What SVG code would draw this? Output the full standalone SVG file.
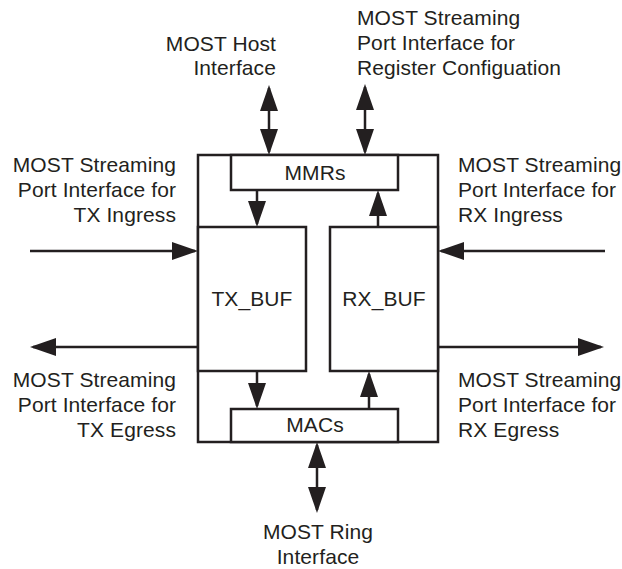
<svg xmlns="http://www.w3.org/2000/svg" width="622" height="569" viewBox="0 0 622 569">
  <style>
    .box { fill: #ffffff; stroke: #231f20; stroke-width: 2.5; }
    .frame { fill: none; stroke: #231f20; stroke-width: 2.5; }
    .wire { fill: none; stroke: #231f20; stroke-width: 2.5; }
    .lbl { font-family: "Liberation Sans", Arial, Helvetica, sans-serif; font-size: 21px; fill: #231f20; letter-spacing: 0.1px; }
    .mid { text-anchor: middle; }
    .end { text-anchor: end; }
  </style>
  <defs>
    <marker id="head" markerUnits="userSpaceOnUse" markerWidth="26" markerHeight="18" refX="23" refY="9" orient="auto-start-reverse" viewBox="0 0 26 18">
      <path d="M0,0 L26,9 L0,18 Z" fill="#231f20"/>
    </marker>
  </defs>

  <rect width="622" height="569" fill="#ffffff"/>

  <!-- outer block frame -->
  <g id="frame">
    <rect class="frame" x="198" y="155" width="240" height="287"/>
  </g>

  <g id="mmrs">
    <rect class="box" x="231" y="155" width="167" height="35"/>
    <text class="lbl mid" x="315" y="180">MMRs</text>
  </g>

  <g id="tx_buf">
    <rect class="box" x="198" y="227" width="108" height="144"/>
    <text class="lbl mid" x="252" y="306">TX_BUF</text>
  </g>

  <g id="rx_buf">
    <rect class="box" x="330" y="227" width="108" height="144"/>
    <text class="lbl mid" x="384" y="306">RX_BUF</text>
  </g>

  <g id="macs">
    <rect class="box" x="231" y="409" width="167" height="33"/>
    <text class="lbl mid" x="315" y="432">MACs</text>
  </g>

  <!-- connectors -->
  <g id="connectors">
    <line class="wire" x1="257" y1="190" x2="257" y2="224" marker-end="url(#head)"/>
    <line class="wire" x1="378" y1="227" x2="378" y2="193" marker-end="url(#head)"/>
    <line class="wire" x1="257" y1="371" x2="257" y2="406" marker-end="url(#head)"/>
    <line class="wire" x1="369" y1="409" x2="369" y2="374" marker-end="url(#head)"/>
    <line class="wire" x1="269" y1="88" x2="269" y2="152" marker-start="url(#head)" marker-end="url(#head)"/>
    <line class="wire" x1="365" y1="87" x2="365" y2="152" marker-start="url(#head)" marker-end="url(#head)"/>
    <line class="wire" x1="317" y1="445" x2="317" y2="510" marker-start="url(#head)" marker-end="url(#head)"/>
    <line class="wire" x1="30" y1="251" x2="195" y2="251" marker-end="url(#head)"/>
    <line class="wire" x1="198" y1="347" x2="33" y2="347" marker-end="url(#head)"/>
    <line class="wire" x1="605" y1="251" x2="441" y2="251" marker-end="url(#head)"/>
    <line class="wire" x1="438" y1="347" x2="601" y2="347" marker-end="url(#head)"/>
  </g>

  <!-- interface labels -->
  <g id="host-label">
    <text class="lbl end" x="276" y="51">MOST Host</text>
    <text class="lbl end" x="276" y="75">Interface</text>
  </g>
  <g id="reg-label">
    <text class="lbl" x="357" y="25">MOST Streaming</text>
    <text class="lbl" x="357" y="50">Port Interface for</text>
    <text class="lbl" x="357" y="75">Register Configuation</text>
  </g>
  <g id="tx-ingress-label">
    <text class="lbl end" x="176" y="172">MOST Streaming</text>
    <text class="lbl end" x="176" y="197">Port Interface for</text>
    <text class="lbl end" x="176" y="222">TX Ingress</text>
  </g>
  <g id="rx-ingress-label">
    <text class="lbl" x="458" y="172">MOST Streaming</text>
    <text class="lbl" x="458" y="197">Port Interface for</text>
    <text class="lbl" x="458" y="222">RX Ingress</text>
  </g>
  <g id="tx-egress-label">
    <text class="lbl end" x="176" y="387">MOST Streaming</text>
    <text class="lbl end" x="176" y="412">Port Interface for</text>
    <text class="lbl end" x="176" y="437">TX Egress</text>
  </g>
  <g id="rx-egress-label">
    <text class="lbl" x="458" y="387">MOST Streaming</text>
    <text class="lbl" x="458" y="412">Port Interface for</text>
    <text class="lbl" x="458" y="437">RX Egress</text>
  </g>
  <g id="ring-label">
    <text class="lbl mid" x="318" y="539">MOST Ring</text>
    <text class="lbl mid" x="318" y="564">Interface</text>
  </g>
</svg>
